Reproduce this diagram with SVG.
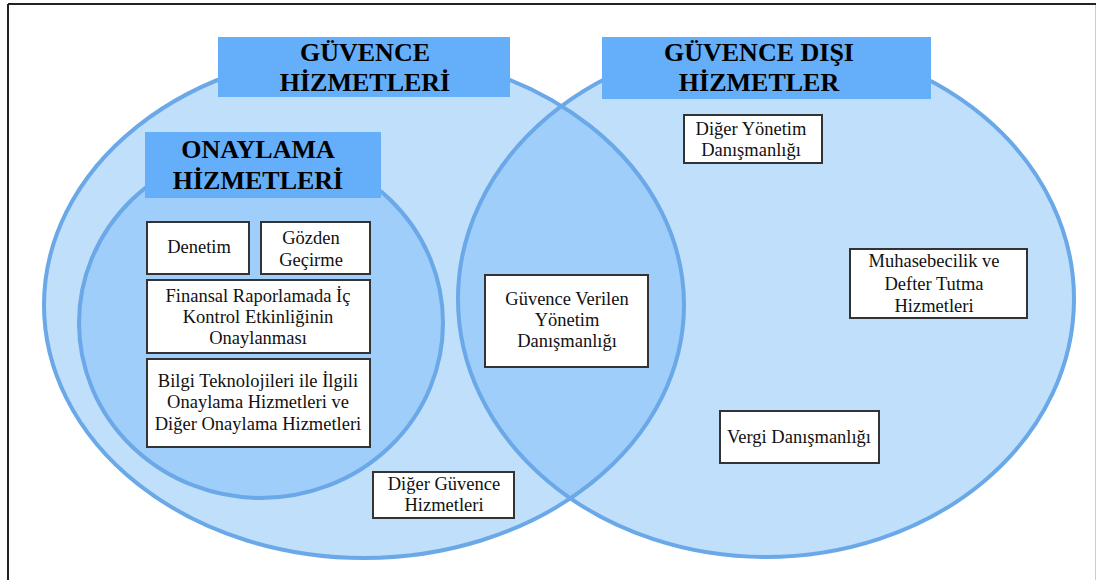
<svg xmlns="http://www.w3.org/2000/svg" width="1096" height="580" viewBox="0 0 1096 580">
  <style>
    .ring { fill: none; stroke: #6AA8E8; stroke-width: 4; }
    .lbl { fill: #64AEFA; }
    .hd { font-weight: bold; font-size: 26px; fill: #000; text-anchor: middle; }
    .box { fill: #fff; stroke: #333; stroke-width: 2; }
    .tx { font-size: 18.5px; fill: #111; text-anchor: middle; }
  </style>
  <defs>
    <clipPath id="leftClip">
      <ellipse cx="364" cy="305" rx="320" ry="253"/>
    </clipPath>
  </defs>
  <rect x="0" y="0" width="1096" height="580" fill="#fff"/>
  <line x1="8" y1="4" x2="1096" y2="4" stroke="#222" stroke-width="2"/>
  <line x1="8" y1="4" x2="8" y2="580" stroke="#222" stroke-width="2"/>
  <line x1="1095.5" y1="5" x2="1095.5" y2="580" stroke="#ccc" stroke-width="1"/>

  <g id="sets">
    <ellipse cx="364" cy="305" rx="320" ry="253" fill="#BFDFFB"/>
    <ellipse cx="766" cy="299" rx="308" ry="258" fill="#BFDFFB"/>
    <ellipse cx="766" cy="299" rx="308" ry="258" fill="#9ECEF9" clip-path="url(#leftClip)"/>
    <ellipse cx="261" cy="323" rx="182" ry="175" fill="#9ECEF9"/>
    <ellipse cx="261" cy="323" rx="182" ry="175" class="ring"/>
    <ellipse cx="364" cy="305" rx="320" ry="253" class="ring"/>
    <ellipse cx="766" cy="299" rx="308" ry="258" class="ring"/>
  </g>

  <g font-family="Liberation Serif, Times New Roman, DejaVu Serif, serif">
  <g id="label-guvence">
    <rect class="lbl" x="218" y="37" width="292" height="60"/>
    <text class="hd" x="365" y="61">GÜVENCE</text>
    <text class="hd" x="365" y="91">HİZMETLERİ</text>
  </g>
  <g id="label-onaylama">
    <rect class="lbl" x="145" y="132" width="236" height="66"/>
    <text class="hd" x="258" y="158">ONAYLAMA</text>
    <text class="hd" x="258" y="189">HİZMETLERİ</text>
  </g>
  <g id="label-guvence-disi">
    <rect class="lbl" x="602" y="37" width="329" height="62"/>
    <text class="hd" x="759" y="61">GÜVENCE DIŞI</text>
    <text class="hd" x="759" y="91">HİZMETLER</text>
  </g>

  <g id="node-denetim">
    <rect class="box" x="147" y="222" width="102" height="52"/>
    <text class="tx" x="199" y="253">Denetim</text>
  </g>
  <g id="node-gozden">
    <rect class="box" x="261" y="222" width="109" height="52"/>
    <text class="tx" x="311" y="244">Gözden</text>
    <text class="tx" x="311" y="266">Geçirme</text>
  </g>
  <g id="node-finansal">
    <rect class="box" x="147" y="280" width="223" height="73"/>
    <text class="tx" x="258" y="302">Finansal Raporlamada İç</text>
    <text class="tx" x="258" y="323">Kontrol Etkinliğinin</text>
    <text class="tx" x="258" y="344">Onaylanması</text>
  </g>
  <g id="node-bilgi">
    <rect class="box" x="147" y="359" width="223" height="88"/>
    <text class="tx" x="258" y="387">Bilgi Teknolojileri ile İlgili</text>
    <text class="tx" x="258" y="408">Onaylama Hizmetleri ve</text>
    <text class="tx" x="258" y="430">Diğer Onaylama Hizmetleri</text>
  </g>
  <g id="node-diger-guvence">
    <rect class="box" x="373" y="472" width="141" height="46"/>
    <text class="tx" x="444" y="490">Diğer Güvence</text>
    <text class="tx" x="444" y="511">Hizmetleri</text>
  </g>
  <g id="node-guvence-verilen">
    <rect class="box" x="485" y="275" width="163" height="92"/>
    <text class="tx" x="567" y="305">Güvence Verilen</text>
    <text class="tx" x="567" y="326">Yönetim</text>
    <text class="tx" x="567" y="347">Danışmanlığı</text>
  </g>
  <g id="node-diger-yonetim">
    <rect class="box" x="684" y="115" width="138" height="48"/>
    <text class="tx" x="751" y="135">Diğer Yönetim</text>
    <text class="tx" x="751" y="156">Danışmanlığı</text>
  </g>
  <g id="node-muhasebe">
    <rect class="box" x="850" y="249" width="177" height="69"/>
    <text class="tx" x="934" y="267">Muhasebecilik ve</text>
    <text class="tx" x="934" y="290">Defter Tutma</text>
    <text class="tx" x="934" y="312">Hizmetleri</text>
  </g>
  <g id="node-vergi">
    <rect class="box" x="720" y="411" width="159" height="52"/>
    <text class="tx" x="799" y="443">Vergi Danışmanlığı</text>
  </g>
  </g>
  <g id="connectors"></g>
</svg>
